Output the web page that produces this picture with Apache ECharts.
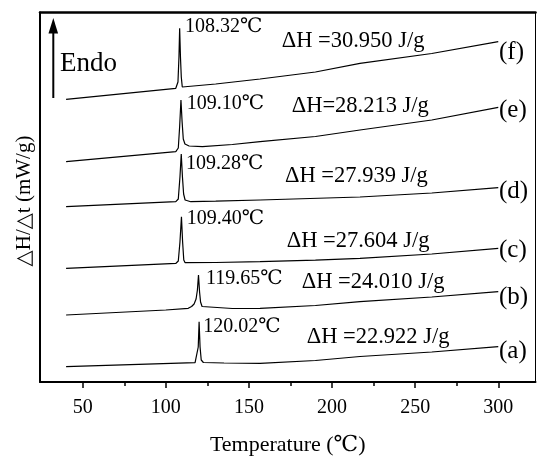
<!DOCTYPE html>
<html>
<head>
<meta charset="utf-8">
<script src="https://cdn.jsdelivr.net/npm/echarts@6/dist/echarts.min.js"></script>
<style>html,body{margin:0;padding:0;background:#fff}#c{width:537px;height:457px}</style>
</head>
<body>
<div id="c"></div>
<script>
// Temperature (°C) vs heat flow in arbitrary stacked units
const curveA = [[40,15.3],[117.6,19.3],[118.8,20.5],[119.5,35],[120.02,60.3],[120.6,35],[121.3,22],[122.6,19.5],[135,19],[156.7,18.7],[190,21.5],[216.8,25.5],[260,30],[300,35.3]];
const curveB = [[40,67],[100,72],[113.5,73.7],[115.5,75.5],[117,78],[118.2,83],[119,92],[119.65,107],[120.3,90],[120.9,80],[121.8,75.5],[123,74.5],[140,73.5],[156.7,73.7],[190,76.5],[216.8,80.3],[260,85],[300,90.3]];
const curveC = [[40,113.7],[106.1,118.7],[107.5,121],[108.5,140],[109.4,165.3],[110.1,140],[110.8,122],[111.6,119.3],[130,119.5],[156.7,120.3],[190,121.8],[216.8,123.7],[260,128],[300,133.7]];
const curveD = [[40,175.3],[106,180.3],[107.5,183],[108.5,205],[109.28,228],[110,205],[110.7,188],[111.6,182],[115,180.3],[130,180.8],[156.7,182],[216.8,185],[260,189],[300,194.3]];
const curveE = [[40,220.3],[106,230.3],[107.5,234],[108.3,255],[109.1,282],[109.8,260],[110.5,243],[111.5,238],[114,236],[122,235.3],[140,237.5],[156.7,240.3],[190,245.5],[216.8,252],[260,262],[300,274.7]];
const curveF = [[40,282.7],[106,293.7],[107.3,300],[107.9,325],[108.32,353.7],[108.8,325],[109.3,305],[109.9,295],[111,294.7],[130,298],[156.7,303],[190,310],[216.8,318.7],[260,328.5],[300,340.3]];
const majorTicks = [50,100,150,200,250,300];
const minorTicks = [75,125,175,225,275];
const peakLabels = ['108.32\u2103','109.10\u2103','109.28\u2103','109.40\u2103','119.65\u2103','120.02\u2103'];
const enthalpyLabels = ['\u0394H =30.950 J/g','\u0394H=28.213 J/g','\u0394H =27.939 J/g','\u0394H =27.604 J/g','\u0394H =24.010 J/g','\u0394H =22.922 J/g'];
const curveNames = ['(f)','(e)','(d)','(c)','(b)','(a)'];
const yTitle = '\u25B3H/\u25B3t (mW/g)';
const xTitle = 'Temperature (\u2103)';

const FONT = '"Liberation Serif", "DejaVu Serif", serif';
const chart = echarts.init(document.getElementById('c'), null, {renderer:'canvas'});
const XMIN = 24.3, XMAX = 322.4;
function mk(data){return {type:'line',data:data,showSymbol:false,symbol:'none',lineStyle:{color:'#000',width:1.2},xAxisIndex:0,yAxisIndex:0,animation:false};}

const peakPos = [[185,27],[186.7,103.5],[186,163.5],[186.7,218.5],[206,278.5],[203.3,326.5]];
const dhPos = [[281.7,41],[291.7,106],[285,176],[286.7,241],[301.7,282.5],[306.7,337.5]];
const namePos = [[499,52],[499,110],[499,191],[499,250.5],[499,297.5],[499,351.5]];
const graphics = [];
peakLabels.forEach((t,i)=>graphics.push({type:'text',x:peakPos[i][0],y:peakPos[i][1],style:{text:t,font:'20px '+FONT,fill:'#000',textVerticalAlign:'middle'}}));
enthalpyLabels.forEach((t,i)=>graphics.push({type:'text',x:dhPos[i][0],y:dhPos[i][1],style:{text:t,font:'22.5px '+FONT,fill:'#000',textVerticalAlign:'middle'}}));
curveNames.forEach((t,i)=>graphics.push({type:'text',x:namePos[i][0],y:namePos[i][1],style:{text:t,font:'25px '+FONT,fill:'#000',textVerticalAlign:'middle'}}));
graphics.push({type:'line',shape:{x1:53.3,y1:98,x2:53.3,y2:30},style:{stroke:'#000',lineWidth:2}});
graphics.push({type:'polygon',shape:{points:[[48.5,33.5],[53.3,18],[58.1,33.5]]},style:{fill:'#000'}});
graphics.push({type:'text',x:60,y:63.5,style:{text:'Endo',font:'27px '+FONT,fill:'#000',textVerticalAlign:'middle'}});
graphics.push({type:'text',x:24,y:201,rotation:Math.PI/2,style:{text:yTitle,font:'21px '+FONT,fill:'#000',textAlign:'center',textVerticalAlign:'middle'}});

chart.setOption({
  backgroundColor:'#fff',
  animation:false,
  grid:{left:40,right:1.5,top:12.5,bottom:75,containLabel:false,outerBoundsMode:'none'},
  xAxis:[
    {type:'value',min:XMIN,max:XMAX,position:'bottom',
     name:xTitle,nameLocation:'middle',nameGap:52,
     nameTextStyle:{fontFamily:FONT,fontSize:22,color:'#000'},
     axisLine:{show:true,onZero:false,lineStyle:{color:'#000',width:2}},
     axisTick:{show:true,inside:false,length:6,customValues:majorTicks,lineStyle:{color:'#000',width:1.5}},
     axisLabel:{show:true,customValues:majorTicks,margin:16,fontFamily:FONT,fontSize:20,color:'#000'},
     splitLine:{show:false}},
    {type:'value',min:XMIN,max:XMAX,position:'bottom',
     axisLine:{show:false,onZero:false},
     axisTick:{show:true,inside:false,length:4,customValues:minorTicks,lineStyle:{color:'#000',width:1.5}},
     axisLabel:{show:false},splitLine:{show:false}},
    {type:'value',min:XMIN,max:XMAX,position:'top',
     axisLine:{show:true,onZero:false,lineStyle:{color:'#000',width:2.5}},
     axisTick:{show:false},axisLabel:{show:false},splitLine:{show:false}}
  ],
  yAxis:[
    {type:'value',min:0,max:369.5,position:'left',
     axisLine:{show:true,onZero:false,lineStyle:{color:'#000',width:2}},
     axisTick:{show:false},axisLabel:{show:false},splitLine:{show:false}},
    {type:'value',min:0,max:369.5,position:'right',
     axisLine:{show:true,onZero:false,lineStyle:{color:'#000',width:1}},
     axisTick:{show:false},axisLabel:{show:false},splitLine:{show:false}}
  ],
  series:[mk(curveA),mk(curveB),mk(curveC),mk(curveD),mk(curveE),mk(curveF)],
  graphic:graphics
});
</script>
</body>
</html>
